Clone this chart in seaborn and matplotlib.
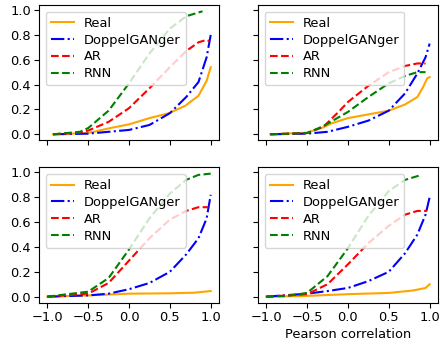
import matplotlib
matplotlib.use("Agg")
import matplotlib.pyplot as plt
import seaborn as sns
import pandas as pd

# CDF curves, one x/y list per series and panel
x_real_tl = [-0.93, -0.5, -0.23, 0.0, 0.25, 0.49, 0.69, 0.85, 0.95, 1.0]
y_real_tl = [0.0, 0.01, 0.05, 0.08, 0.13, 0.17, 0.23, 0.31, 0.43, 0.54]
x_dg_tl = [-0.93, -0.5, 0.0, 0.25, 0.5, 0.7, 0.85, 0.95, 1.0]
y_dg_tl = [0.0, 0.005, 0.035, 0.075, 0.17, 0.3, 0.42, 0.62, 0.8]
x_ar_tl = [-0.93, -0.6, -0.5, -0.25, 0.0, 0.25, 0.5, 0.7, 0.85, 0.95, 0.98]
y_ar_tl = [0.0, 0.013, 0.03, 0.1, 0.21, 0.37, 0.54, 0.67, 0.74, 0.76, 0.75]
x_rnn_tl = [-0.93, -0.6, -0.5, -0.25, 0.0, 0.25, 0.5, 0.7, 0.9]
y_rnn_tl = [0.0, 0.02, 0.05, 0.19, 0.41, 0.65, 0.85, 0.95, 0.99]

x_real_tr = [-0.95, -0.5, -0.3, -0.2, 0.0, 0.25, 0.5, 0.7, 0.85, 0.92, 0.97, 1.0]
y_real_tr = [0.0, 0.013, 0.056, 0.088, 0.13, 0.16, 0.19, 0.24, 0.3, 0.38, 0.45, 0.46]
x_dg_tr = [-0.95, -0.5, -0.25, 0.0, 0.25, 0.5, 0.7, 0.85, 0.95, 1.0]
y_dg_tr = [0.0, 0.005, 0.02, 0.06, 0.11, 0.19, 0.33, 0.49, 0.62, 0.73]
x_ar_tr = [-0.95, -0.5, -0.3, -0.1, 0.0, 0.25, 0.5, 0.7, 0.85, 0.95]
y_ar_tr = [0.0, 0.01, 0.06, 0.19, 0.26, 0.39, 0.5, 0.55, 0.57, 0.57]
x_rnn_tr = [-0.95, -0.5, -0.3, 0.0, 0.25, 0.5, 0.7, 0.85, 0.95]
y_rnn_tr = [0.0, 0.01, 0.066, 0.18, 0.3, 0.41, 0.47, 0.5, 0.5]

x_real_bl = [-1.0, -0.5, 0.0, 0.5, 0.8, 1.0]
y_real_bl = [0.0, 0.01, 0.024, 0.027, 0.032, 0.045]
x_dg_bl = [-1.0, -0.5, -0.25, 0.0, 0.25, 0.5, 0.7, 0.85, 0.95, 1.0]
y_dg_bl = [0.0, 0.01, 0.024, 0.06, 0.11, 0.2, 0.34, 0.47, 0.63, 0.82]
x_ar_bl = [-1.0, -0.5, -0.25, 0.0, 0.25, 0.5, 0.7, 0.85, 0.97]
y_ar_bl = [0.0, 0.024, 0.11, 0.29, 0.47, 0.62, 0.69, 0.72, 0.72]
x_rnn_bl = [-1.0, -0.5, -0.25, 0.0, 0.25, 0.5, 0.7, 0.85, 1.0]
y_rnn_bl = [0.0, 0.04, 0.15, 0.38, 0.63, 0.83, 0.94, 0.98, 0.99]

x_real_br = [-1.0, -0.55, 0.0, 0.5, 0.8, 0.95, 1.0]
y_real_br = [0.0, 0.005, 0.02, 0.03, 0.05, 0.07, 0.1]
x_dg_br = [-1.0, -0.5, -0.25, 0.0, 0.25, 0.5, 0.7, 0.85, 0.95, 1.0]
y_dg_br = [0.0, 0.024, 0.045, 0.07, 0.125, 0.2, 0.35, 0.5, 0.66, 0.8]
x_ar_br = [-1.0, -0.5, -0.25, 0.0, 0.25, 0.5, 0.7, 0.85, 0.97]
y_ar_br = [0.0, 0.02, 0.1, 0.26, 0.43, 0.57, 0.66, 0.69, 0.69]
x_rnn_br = [-1.0, -0.75, -0.5, -0.25, 0.0, 0.25, 0.5, 0.7, 0.9]
y_rnn_br = [0.0, 0.005, 0.03, 0.165, 0.39, 0.65, 0.85, 0.94, 0.98]

names = ["Real", "DoppelGANger", "AR", "RNN"]
colors = ["orange", "blue", "red", "green"]
styles = ["-", "-.", "--", "--"]

panels = [
    [(x_real_tl, y_real_tl), (x_dg_tl, y_dg_tl), (x_ar_tl, y_ar_tl), (x_rnn_tl, y_rnn_tl)],
    [(x_real_tr, y_real_tr), (x_dg_tr, y_dg_tr), (x_ar_tr, y_ar_tr), (x_rnn_tr, y_rnn_tr)],
    [(x_real_bl, y_real_bl), (x_dg_bl, y_dg_bl), (x_ar_bl, y_ar_bl), (x_rnn_bl, y_rnn_bl)],
    [(x_real_br, y_real_br), (x_dg_br, y_dg_br), (x_ar_br, y_ar_br), (x_rnn_br, y_rnn_br)],
]

plt.rcParams["font.size"] = 9.4
plt.rcParams["xtick.major.pad"] = 2.5
plt.rcParams["ytick.major.pad"] = 2.5
plt.rcParams["axes.labelpad"] = 2.5

fig, axes = plt.subplots(2, 2, figsize=(4.4, 3.41), dpi=100, sharex=True, sharey=True)
fig.subplots_adjust(left=0.089, right=0.995, top=0.985, bottom=0.112, wspace=0.218, hspace=0.2)

for ax, series in zip(axes.flat, panels):
    for (xs, ys), name, c, ls in zip(series, names, colors, styles):
        df = pd.DataFrame({"x": xs, "y": ys})
        sns.lineplot(data=df, x="x", y="y", ax=ax, color=c, linestyle=ls, label=name)
    ax.legend(loc="upper left", labelspacing=0.29, handlelength=1.8, handletextpad=0.7)
    ax.set_xlabel("")
    ax.set_ylabel("")
    ax.set_xticks([-1.0, -0.5, 0.0, 0.5, 1.0])
    ax.set_yticks([0.0, 0.2, 0.4, 0.6, 0.8, 1.0])

axes[1, 1].set_xlabel("Pearson correlation")
axes[1, 1].set_ylabel("CDF")

fig.savefig("out.png", dpi=100)
